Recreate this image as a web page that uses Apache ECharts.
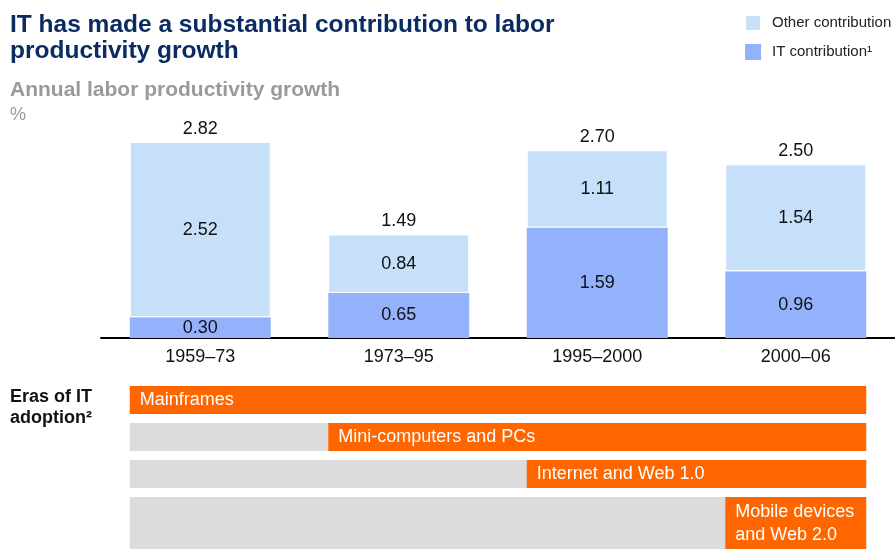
<!DOCTYPE html>
<html>
<head>
<meta charset="utf-8">
<script src="https://cdn.jsdelivr.net/npm/echarts@6/dist/echarts.min.js"></script>
<style>
  html, body { margin: 0; padding: 0; background: #fff; }
  #chart { width: 895px; height: 549px; }
</style>
</head>
<body>
<div id="chart"></div>
<script>
// periods and contributions (%)
const categories = ['1959–73', '1973–95', '1995–2000', '2000–06'];
const itValues = [0.30, 0.65, 1.59, 0.96];
const otherValues = [2.52, 0.84, 1.11, 1.54];
const totals = [2.82, 1.49, 2.70, 2.50];

// eras of IT adoption, each starts at a period index
const eraNames = ['Mainframes', 'Mini-computers and PCs', 'Internet and Web 1.0', 'Mobile devices\nand Web 2.0'];
const eraStart = [0, 1, 2, 3];

const FONT = "'Liberation Sans', Arial, sans-serif";
const BAR_RATIO = 0.71;

const chart = echarts.init(document.getElementById('chart'));

const option = {
  animation: false,
  textStyle: { fontFamily: FONT },
  title: [
    {
      text: 'IT has made a substantial contribution to labor\nproductivity growth',
      left: 10, top: 12, padding: 0,
      textStyle: { fontFamily: FONT, fontSize: 24.5, fontWeight: 'bold', color: '#0b2c62', lineHeight: 26 }
    },
    {
      text: 'Annual labor productivity growth',
      left: 10, top: 80, padding: 0,
      textStyle: { fontFamily: FONT, fontSize: 21, fontWeight: 'bold', color: '#9a9a9a', lineHeight: 21 }
    },
    {
      text: '%',
      left: 10, top: 106, padding: 0,
      textStyle: { fontFamily: FONT, fontSize: 18, fontWeight: 'normal', color: '#9a9a9a', lineHeight: 18 }
    },
    {
      text: 'Eras of IT\nadoption²',
      left: 10, top: 387, padding: 0,
      textStyle: { fontFamily: FONT, fontSize: 18, fontWeight: 'bold', color: '#111', lineHeight: 21 }
    }
  ],
  legend: {
    data: ['Other contribution', 'IT contribution'],
    orient: 'vertical',
    left: 744, top: 14, padding: 0,
    icon: 'rect',
    itemWidth: 16, itemHeight: 16, itemGap: 12,
    formatter: name => name === 'IT contribution' ? 'IT contribution¹' : name,
    textStyle: { fontFamily: FONT, fontSize: 15, color: '#222', padding: [0, 0, 0, 6] }
  },
  grid: [
    { left: 101, right: 0, top: 129.5, bottom: 211 },
    { left: 101, right: 0, top: 386, height: 148 }
  ],
  xAxis: [
    {
      type: 'category', gridIndex: 0, data: categories,
      axisLine: { lineStyle: { color: '#000', width: 2 } },
      axisTick: { show: false },
      axisLabel: { fontFamily: FONT, fontSize: 18, color: '#111', margin: 10 }
    },
    { type: 'category', gridIndex: 1, data: categories, show: false }
  ],
  yAxis: [
    { type: 'value', gridIndex: 0, min: 0, max: 3, show: false, splitLine: { show: false } },
    { type: 'category', gridIndex: 1, data: eraNames, inverse: true, show: false }
  ],
  series: [
    {
      name: 'IT contribution', type: 'bar', stack: 'a',
      barWidth: BAR_RATIO * 100 + '%',
      data: itValues,
      itemStyle: { color: '#94b1fc' },
      label: { show: true, position: 'inside', fontFamily: FONT, fontSize: 18, color: '#111',
               formatter: p => p.value.toFixed(2) }
    },
    {
      name: 'Other contribution', type: 'bar', stack: 'a',
      data: otherValues,
      itemStyle: { color: '#c6e0fa', borderColor: '#fff', borderWidth: 1 },
      label: { show: true, position: 'inside', fontFamily: FONT, fontSize: 18, color: '#111',
               formatter: p => p.value.toFixed(2) }
    },
    {
      // zero-height bar on top of the stack, just carries the totals
      name: 'total', type: 'bar', stack: 'a',
      data: totals.map(() => 0),
      itemStyle: { color: 'transparent' },
      label: { show: true, position: 'top', distance: 4, fontFamily: FONT, fontSize: 18, color: '#111',
               formatter: p => totals[p.dataIndex].toFixed(2) }
    },
    {
      type: 'custom',
      xAxisIndex: 1, yAxisIndex: 1,
      clip: false,
      data: eraNames.map((n, i) => [i, eraStart[i]]),
      renderItem: (params, api) => {
        const row = api.value(0);
        const start = api.value(1);
        const bandW = api.size([1, 0])[0];
        const barW = bandW * BAR_RATIO;
        const bandH = api.size([0, 1])[1];
        const c0 = api.coord([0, row]);
        const cs = api.coord([start, row]);
        const ce = api.coord([categories.length - 1, row]);
        const top = c0[1] - bandH / 2;
        const h = row === eraNames.length - 1 ? bandH * 1.45 : bandH * 0.757;
        const left = c0[0] - barW / 2;
        const right = ce[0] + barW / 2;
        const oLeft = cs[0] - barW / 2;
        return {
          type: 'group',
          children: [
            { type: 'rect', shape: { x: left, y: top, width: right - left, height: h }, style: { fill: '#dcdcdc' } },
            { type: 'rect', shape: { x: oLeft, y: top, width: right - oLeft, height: h }, style: { fill: '#ff6600' } },
            {
              type: 'text',
              style: {
                text: eraNames[row], x: oLeft + 10, y: top + h / 2,
                verticalAlign: 'middle', align: 'left',
                fill: '#fff', fontFamily: FONT, fontSize: 18, lineHeight: 23
              }
            }
          ]
        };
      }
    }
  ]
};

chart.setOption(option);
</script>
</body>
</html>
